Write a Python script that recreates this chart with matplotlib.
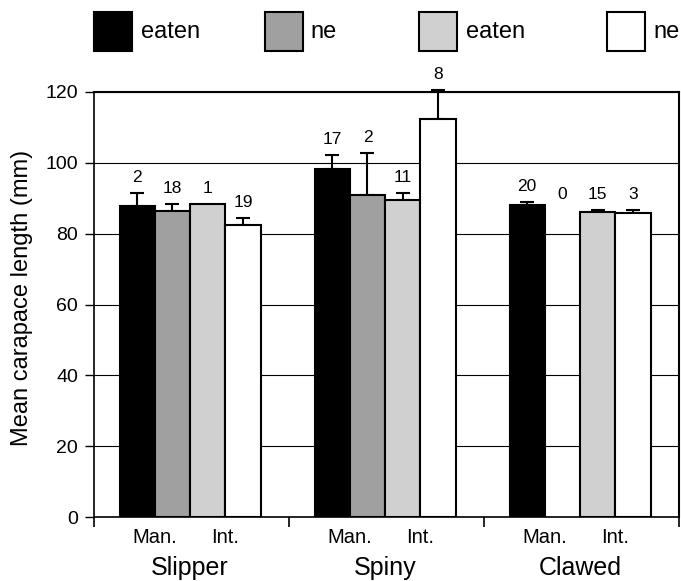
import matplotlib
matplotlib.use('Agg')
import matplotlib.pyplot as plt
import numpy as np
from matplotlib.patches import Rectangle
from matplotlib.transforms import blended_transform_factory

plt.rcParams['font.family'] = ['Liberation Sans', 'DejaVu Sans']

# lobster groups and the four bar series (Man. eaten / ne, Int. eaten / ne)
groups = ['Slipper', 'Spiny', 'Clawed']
series_labels = ['eaten', 'ne', 'eaten', 'ne']
series_colors = ['#000000', '#a0a0a0', '#d0d0d0', '#ffffff']
sub_labels = ['Man.', 'Int.']

means = np.array([
    [87.7, 86.5, 88.5, 82.4],
    [98.4, 90.8, 89.4, 112.5],
    [88.2, np.nan, 86.1, 85.7],
])
errors = np.array([
    [3.9, 2.0, 0.0, 1.9],
    [3.7, 12.1, 2.1, 8.0],
    [0.7, 0.0, 0.5, 1.1],
])
counts = np.array([
    [2, 18, 1, 19],
    [17, 2, 11, 8],
    [20, 0, 15, 3],
])

fig = plt.figure(figsize=(6.81, 5.81), dpi=100)
ax = fig.add_axes([94 / 681, 64 / 581, 585 / 681, 425 / 581])

width = 0.181
shift = -0.007
x = np.arange(len(groups))

ax.set_axisbelow(True)
for k in range(4):
    pos = x + shift + (k - 1.5) * width
    vals = means[:, k]
    ok = ~np.isnan(vals)
    ax.bar(pos[ok], vals[ok], width=width, color=series_colors[k],
           edgecolor='black', linewidth=1.5, zorder=2)
    has_err = ok & (errors[:, k] > 0)
    eb = ax.errorbar(pos[has_err], vals[has_err],
                     yerr=[np.zeros(has_err.sum()), errors[has_err, k]],
                     fmt='none', ecolor='black', elinewidth=1.5, capsize=5,
                     capthick=1.5, zorder=1)
    for art in eb.lines[1] + eb.lines[2]:
        art.set_clip_on(False)
    # sample sizes above each bar
    for i in range(len(groups)):
        top = vals[i] + errors[i, k]
        if np.isnan(top):
            top = means[i, k + 1] + errors[i, k + 1]
        ax.annotate(str(counts[i, k]), (pos[i], top), xytext=(0, 11.2),
                    textcoords='offset points', ha='center', va='center',
                    fontsize=12.5, annotation_clip=False)

ax.set_ylim(0, 120)
ax.set_xlim(-0.5, 2.5)
ax.set_yticks(np.arange(0, 121, 20))
ax.yaxis.grid(True, color='black', linewidth=0.8)
ax.tick_params(axis='y', direction='out', length=6.5, width=1, labelsize=14, pad=5)
ax.set_xticks([-0.5, 0.5, 1.5, 2.5])
ax.set_xticklabels([])
ax.tick_params(axis='x', direction='out', length=7.2, width=1.2)
for side in ['left', 'bottom']:
    ax.spines[side].set_linewidth(1.2)
for side in ['top', 'right']:
    ax.spines[side].set_linewidth(1.5)

trans = blended_transform_factory(ax.transData, ax.transAxes)
for i, g in enumerate(groups):
    ax.text(x[i] + shift - width, -0.049, sub_labels[0], transform=trans,
            ha='center', va='center', fontsize=14.5)
    ax.text(x[i] + shift + width, -0.049, sub_labels[1], transform=trans,
            ha='center', va='center', fontsize=14.5)
    ax.text(x[i] + shift, -0.12, g, transform=trans,
            ha='center', va='center', fontsize=18)

fig.text(22 / 681, 1 - 298 / 581, 'Mean carapace length (mm)', rotation=90,
         ha='center', va='center', fontsize=17)

# legend row across the top
box_left = [94, 265, 419, 607]
text_left = [141, 310, 466, 653]
for k in range(4):
    fig.add_artist(Rectangle((box_left[k] / 681, 1 - 51 / 581), 38 / 681, 39 / 581,
                             transform=fig.transFigure, facecolor=series_colors[k],
                             edgecolor='black', linewidth=1.5))
    fig.text(text_left[k] / 681, 1 - 32 / 581, series_labels[k],
             ha='left', va='center', fontsize=17)

fig.savefig('out.png', dpi=100)
